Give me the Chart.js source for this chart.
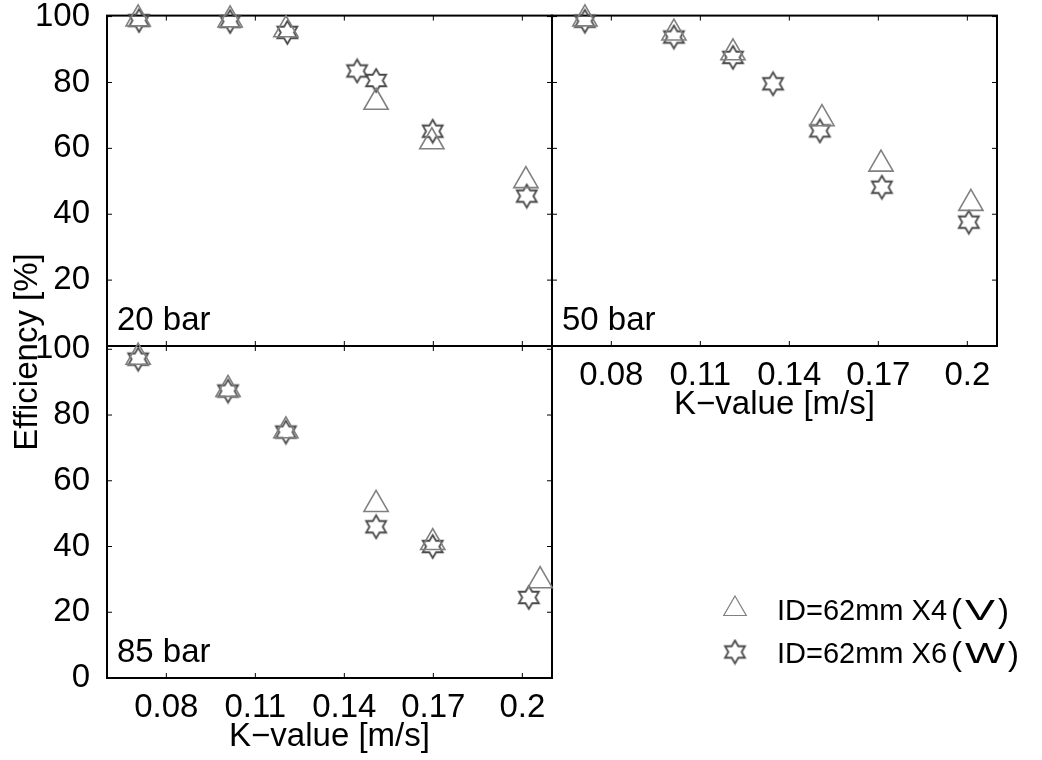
<!DOCTYPE html>
<html><head><meta charset="utf-8">
<script src="https://cdn.jsdelivr.net/npm/chart.js@4.4.1/dist/chart.umd.min.js"></script>
<style>
html,body{margin:0;padding:0;background:#fff;width:1042px;height:760px;overflow:hidden}
.wrap{position:absolute;left:0;top:0;width:1042px;height:760px}
canvas{position:absolute;left:0;top:0}
</style></head><body>
<div class="wrap"><canvas id="c20" width="1042" height="760"></canvas></div>
<div class="wrap"><canvas id="c50" width="1042" height="760"></canvas></div>
<div class="wrap"><canvas id="c85" width="1042" height="760"></canvas></div>
<script>
// ---- data ----
const xTickValues = [0.08, 0.11, 0.14, 0.17, 0.2];
const yTickValues = [0, 20, 40, 60, 80, 100];
const seriesNames = ['ID=62mm X4', 'ID=62mm X6'];
const seriesTags = ['V', 'W'];
const panelNames = ['20 bar', '50 bar', '85 bar'];
const xTitle = 'K\u2212value [m/s]';
const yTitle = 'Efficiency [%]';

// 20 bar
const k20_V   = [0.0705, 0.1015, 0.1203, 0.1507, 0.1695, 0.2012];
const eff20_V = [99.3,   99.0,   96.0,   74.0,   62.0,   50.2];
const k20_W   = [0.0708, 0.1015, 0.1208, 0.1443, 0.1507, 0.1698, 0.2015];
const eff20_W = [98.8,   98.5,   95.2,   83.5,   80.6,   65.2,   45.5];
// 50 bar
const k50_V   = [0.0711, 0.1011, 0.1210, 0.1510, 0.1709, 0.2012];
const eff50_V = [99.3,   95.0,   89.0,   69.0,   55.2,   43.3];
const k50_W   = [0.0711, 0.1011, 0.1210, 0.1345, 0.1503, 0.1712, 0.2005];
const eff50_W = [98.6,   93.8,   87.6,   79.6,   65.3,   48.2,   37.6];
// 85 bar
const k85_V   = [0.0705, 0.1008, 0.1203, 0.1507, 0.1698, 0.2060];
const eff85_V = [97.6,   87.8,   75.2,   52.8,   41.2,   29.6];
const k85_W   = [0.0705, 0.1008, 0.1203, 0.1507, 0.1698, 0.2022];
const eff85_W = [97.0,   87.3,   74.8,   46.0,   40.0,   24.5];

const pts = (xs, ys) => xs.map((v, i) => ({x: v, y: ys[i]}));

// ---- styles ----
const FONT = "'Liberation Sans', Arial, Helvetica, sans-serif";
Chart.defaults.font.family = FONT;
Chart.defaults.font.size = 33;
Chart.defaults.color = '#000';
const TRI_COLOR = '#808080';
const STAR_COLOR = '#4a4a4a';

function makeHexagram(R, color, lw) {
  const s = Math.ceil(2 * R + 4);
  const c = document.createElement('canvas');
  c.width = s; c.height = s;
  const g = c.getContext('2d');
  const cx = s / 2, cy = s / 2, r = R / Math.sqrt(3);
  g.beginPath();
  for (let i = 0; i < 12; i++) {
    const ang = i * Math.PI / 6;
    const rad = i % 2 === 0 ? R : r;
    const px = cx + Math.sin(ang) * rad, py = cy - Math.cos(ang) * rad;
    if (i === 0) g.moveTo(px, py); else g.lineTo(px, py);
  }
  g.closePath();
  g.strokeStyle = color; g.lineWidth = lw; g.stroke();
  return c;
}
const starImg = makeHexagram(11.5, STAR_COLOR, 1.8);

function triDs(data) {
  return {label: seriesNames[0], data, pointStyle: 'triangle', pointRadius: 14, pointHoverRadius: 14,
    pointBorderColor: TRI_COLOR, pointBackgroundColor: 'rgba(0,0,0,0)', pointBorderWidth: 1.6,
    showLine: false, clip: false};
}
function starDs(data) {
  return {label: seriesNames[1], data, pointStyle: starImg, pointRadius: 12, pointHoverRadius: 12,
    pointBorderColor: STAR_COLOR, pointBackgroundColor: 'rgba(0,0,0,0)', pointBorderWidth: 1.5,
    showLine: false, clip: false};
}

// box with inward ticks on all four sides + panel label
const boxPlugin = {
  id: 'matBox',
  beforeDatasetsDraw(chart, args, opts) {
    const {ctx, chartArea: a} = chart;
    const x = chart.scales.x, y = chart.scales.y;
    ctx.save();
    ctx.strokeStyle = '#000';
    ctx.lineWidth = 1;
    ctx.beginPath();
    x.ticks.forEach(t => {
      const px = x.getPixelForValue(t.value);
      ctx.moveTo(px, a.bottom); ctx.lineTo(px, a.bottom - 5);
      ctx.moveTo(px, a.top); ctx.lineTo(px, a.top + 5);
    });
    y.ticks.forEach(t => {
      const py = y.getPixelForValue(t.value);
      ctx.moveTo(a.left, py); ctx.lineTo(a.left + 5, py);
      ctx.moveTo(a.right, py); ctx.lineTo(a.right - 5, py);
    });
    ctx.stroke();
    ctx.lineWidth = 2;
    ctx.strokeRect(a.left, a.top, a.right - a.left, a.bottom - a.top);
    if (opts.text) {
      ctx.fillStyle = '#000';
      ctx.font = '33px ' + FONT;
      ctx.textAlign = 'left';
      ctx.textBaseline = 'alphabetic';
      ctx.fillText(opts.text, a.left + 10, a.bottom - 16);
    }
    ctx.restore();
  }
};

function stretchText(ctx, txt, x, y, width) {
  const w = ctx.measureText(txt).width;
  ctx.save();
  ctx.translate(x, y);
  ctx.scale(width / w, 1);
  ctx.fillText(txt, 0, 0);
  ctx.restore();
}

const extrasPlugin = {
  id: 'extras',
  afterDraw(chart, args, opts) {
    if (!opts.enabled) return;
    const ctx = chart.ctx;
    ctx.save();
    // y title
    ctx.translate(28, 352);
    ctx.rotate(-Math.PI / 2);
    ctx.fillStyle = '#000';
    ctx.font = '33px ' + FONT;
    ctx.textAlign = 'center';
    ctx.textBaseline = 'middle';
    ctx.fillText(yTitle, 0, 0);
    ctx.restore();
    // legend
    const rows = [609, 652];
    const tagW = [30, 40];
    chart.data.datasets.forEach((ds, i) => {
      const yy = rows[i];
      ctx.save();
      ctx.strokeStyle = ds.pointBorderColor;
      ctx.fillStyle = 'rgba(0,0,0,0)';
      ctx.lineWidth = 1.2;
      Chart.helpers.drawPoint(ctx, {pointStyle: ds.pointStyle, radius: i === 0 ? 13 : 11, borderWidth: 1.2, rotation: 0}, 735, yy);
      ctx.restore();
      ctx.save();
      ctx.fillStyle = '#000';
      ctx.textAlign = 'left';
      ctx.textBaseline = 'alphabetic';
      ctx.font = '29px ' + FONT;
      ctx.fillText(seriesNames[i], 777, yy + 11);
      ctx.font = '33px ' + FONT;
      const x0 = 951;
      ctx.fillText('(', x0, yy + 13);
      const pw = ctx.measureText('(').width;
      ctx.font = '30px ' + FONT;
      stretchText(ctx, seriesTags[i], x0 + pw + 3, yy + 11, tagW[i]);
      ctx.font = '33px ' + FONT;
      ctx.fillText(')', x0 + pw + 6 + tagW[i], yy + 13);
      ctx.restore();
    });
  }
};

function noPad(s) { s.paddingTop = 0; s.paddingBottom = 0; s.paddingLeft = 0; s.paddingRight = 0; }

function makeChart(id, datasets, cfg) {
  return new Chart(document.getElementById(id), {
    type: 'scatter',
    data: {datasets},
    plugins: [boxPlugin, extrasPlugin],
    options: {
      responsive: false, animation: false, devicePixelRatio: 1,
      layout: {padding: cfg.padding},
      plugins: {legend: {display: false}, tooltip: {enabled: false},
        matBox: {text: cfg.label}, extras: {enabled: !!cfg.extras}},
      scales: {
        x: {type: 'linear', min: 0.06, max: 0.21,
          grid: {display: false}, border: {display: false},
          afterBuildTicks: s => { s.ticks = xTickValues.map(v => ({value: v})); },
          afterFit: s => { s.height = cfg.xHeight; noPad(s); },
          ticks: {display: cfg.xLabels, padding: 2, maxRotation: 0, autoSkip: false,
            callback: v => String(v)},
          title: {display: cfg.xLabels, text: xTitle, padding: {top: 0, bottom: 1}}
        },
        y: {type: 'linear', min: 0, max: cfg.yMax,
          grid: {display: false}, border: {display: false},
          afterBuildTicks: s => { s.ticks = yTickValues.map(v => ({value: v})); },
          afterFit: s => { s.width = cfg.yWidth; noPad(s); },
          ticks: {display: cfg.yLabels, padding: 9,
            callback: v => (cfg.hideZero && v === 0) ? '' : String(v)}
        }
      }
    }
  });
}

makeChart('c20', [triDs(pts(k20_V, eff20_V)), starDs(pts(k20_W, eff20_W))], {
  padding: {left: 37, right: 490, top: 14, bottom: 414},
  label: panelNames[0], xHeight: 0, yWidth: 70, xLabels: false, yLabels: true, hideZero: true, yMax: 100.3
});
makeChart('c50', [triDs(pts(k50_V, eff50_V)), starDs(pts(k50_W, eff50_W))], {
  padding: {left: 552, right: 45, top: 14, bottom: 334},
  label: panelNames[1], xHeight: 80, yWidth: 0, xLabels: true, yLabels: false, hideZero: true, yMax: 100.3
});
makeChart('c85', [triDs(pts(k85_V, eff85_V)), starDs(pts(k85_W, eff85_W))], {
  padding: {left: 37, right: 490, top: 346, bottom: 2},
  label: panelNames[2], xHeight: 80, yWidth: 70, xLabels: true, yLabels: true, hideZero: false, yMax: 101, extras: true
});
</script>
</body></html>
